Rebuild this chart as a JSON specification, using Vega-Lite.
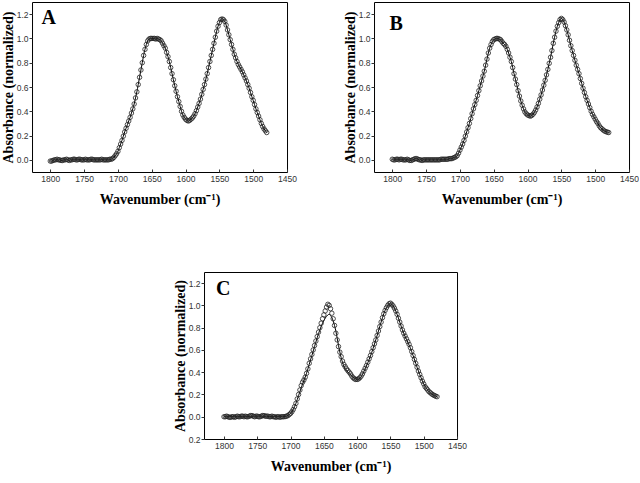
{
"$schema": "https://vega.github.io/schema/vega-lite/v6.json",
"padding": {"left": 0, "top": 1, "right": 0, "bottom": 0},
"background": "white",
"config": {
  "view": {"stroke": "black", "strokeWidth": 1},
  "axis": {"domain": false, "grid": false, "labelFont": "Liberation Sans", "labelFontSize": 8.5, "labelColor": "#333", "tickColor": "#333", "labelFlush": false, "labelOverlap": false, "titleFont": "Liberation Serif", "titleFontWeight": "bold", "titleColor": "black"},
  "axisX": {"tickSize": -3, "labelPadding": 5, "titleFontSize": 14, "titlePadding": 10},
  "axisY": {"tickSize": 3, "labelPadding": 1, "titleFontSize": 14, "titlePadding": 1}
},
"datasets": {
"A": [
{"x":1800,"y":-0.01},{"x":1798,"y":-0.01},{"x":1796,"y":-0.005},{"x":1794,"y":0},{"x":1792,"y":0},{"x":1790,"y":0.005},{"x":1788,"y":0},{"x":1786,"y":0},{"x":1784,"y":-0.005},{"x":1782,"y":-0.005},{"x":1780,"y":0},{"x":1778,"y":0},{"x":1776,"y":0.005},{"x":1774,"y":0},{"x":1772,"y":-0.005},{"x":1770,"y":0},{"x":1768,"y":0},{"x":1766,"y":0.005},{"x":1764,"y":0.005},{"x":1762,"y":0},{"x":1760,"y":0},{"x":1758,"y":0.005},{"x":1756,"y":0.005},{"x":1754,"y":0},{"x":1752,"y":0},{"x":1750,"y":0},{"x":1748,"y":0.005},{"x":1746,"y":0},{"x":1744,"y":0},{"x":1742,"y":0},{"x":1740,"y":0.005},{"x":1738,"y":0.005},{"x":1736,"y":0},{"x":1734,"y":0},{"x":1732,"y":0},{"x":1730,"y":0},{"x":1728,"y":0},{"x":1726,"y":0},{"x":1724,"y":0.005},{"x":1722,"y":0},{"x":1720,"y":0},{"x":1718,"y":0},{"x":1716,"y":0},{"x":1714,"y":0},{"x":1712,"y":0.005},{"x":1710,"y":0.005},
{"x":1708,"y":0.01},{"x":1706,"y":0.02},{"x":1704,"y":0.035},{"x":1702,"y":0.05},{"x":1700,"y":0.07},{"x":1698,"y":0.10},{"x":1696,"y":0.13},{"x":1694,"y":0.16},{"x":1692,"y":0.195},{"x":1690,"y":0.23},{"x":1688,"y":0.26},{"x":1686,"y":0.29},{"x":1684,"y":0.32},{"x":1682,"y":0.35},{"x":1680,"y":0.385},{"x":1678,"y":0.42},{"x":1676,"y":0.46},{"x":1674,"y":0.51},{"x":1672,"y":0.56},{"x":1670,"y":0.62},{"x":1668,"y":0.68},{"x":1666,"y":0.74},{"x":1664,"y":0.80},{"x":1662,"y":0.86},{"x":1660,"y":0.91},{"x":1658,"y":0.95},{"x":1656,"y":0.98},{"x":1654,"y":0.995},{"x":1652,"y":1.0},{"x":1650,"y":1.0},{"x":1648,"y":1.0},{"x":1646,"y":1.0},{"x":1644,"y":0.995},{"x":1642,"y":1.0},{"x":1640,"y":0.995},{"x":1638,"y":0.99},{"x":1636,"y":0.98},{"x":1634,"y":0.96},{"x":1632,"y":0.94},{"x":1630,"y":0.92},{"x":1628,"y":0.885},{"x":1626,"y":0.85},{"x":1624,"y":0.81},{"x":1622,"y":0.76},{"x":1620,"y":0.71},{"x":1618,"y":0.66},{"x":1616,"y":0.61},{"x":1614,"y":0.565},{"x":1612,"y":0.52},{"x":1610,"y":0.48},{"x":1608,"y":0.44},{"x":1606,"y":0.40},{"x":1604,"y":0.37},{"x":1602,"y":0.35},{"x":1600,"y":0.335},{"x":1598,"y":0.325},{"x":1596,"y":0.32},{"x":1594,"y":0.325},{"x":1592,"y":0.335},{"x":1590,"y":0.345},{"x":1588,"y":0.36},{"x":1586,"y":0.38},{"x":1584,"y":0.405},{"x":1582,"y":0.435},{"x":1580,"y":0.465},{"x":1578,"y":0.50},{"x":1576,"y":0.54},{"x":1574,"y":0.58},{"x":1572,"y":0.62},{"x":1570,"y":0.665},{"x":1568,"y":0.71},{"x":1566,"y":0.76},{"x":1564,"y":0.81},{"x":1562,"y":0.86},{"x":1560,"y":0.91},{"x":1558,"y":0.96},{"x":1556,"y":1.01},{"x":1554,"y":1.06},{"x":1552,"y":1.10},{"x":1550,"y":1.13},{"x":1548,"y":1.155},{"x":1546,"y":1.16},{"x":1544,"y":1.155},{"x":1542,"y":1.14},{"x":1540,"y":1.11},{"x":1538,"y":1.07},{"x":1536,"y":1.03},{"x":1534,"y":0.99},{"x":1532,"y":0.95},{"x":1530,"y":0.91},{"x":1528,"y":0.87},{"x":1526,"y":0.84},{"x":1524,"y":0.81},{"x":1522,"y":0.785},{"x":1520,"y":0.765},{"x":1518,"y":0.745},{"x":1516,"y":0.725},{"x":1514,"y":0.70},{"x":1512,"y":0.675},{"x":1510,"y":0.65},{"x":1508,"y":0.62},{"x":1506,"y":0.59},{"x":1504,"y":0.555},{"x":1502,"y":0.52},{"x":1500,"y":0.49},{"x":1498,"y":0.455},{"x":1496,"y":0.42},{"x":1494,"y":0.39},{"x":1492,"y":0.36},{"x":1490,"y":0.33},{"x":1488,"y":0.30},{"x":1486,"y":0.275},{"x":1484,"y":0.255},{"x":1482,"y":0.24},{"x":1480,"y":0.225}
],
"B": [
{"x":1800,"y":0.005},{"x":1798,"y":0},{"x":1796,"y":0},{"x":1794,"y":0.005},{"x":1792,"y":0.005},{"x":1790,"y":0},{"x":1788,"y":0.005},{"x":1786,"y":0.005},{"x":1784,"y":0},{"x":1782,"y":0},{"x":1780,"y":0},{"x":1778,"y":0.005},{"x":1776,"y":0},{"x":1774,"y":-0.005},{"x":1772,"y":-0.005},{"x":1770,"y":0},{"x":1768,"y":0.005},{"x":1766,"y":0.01},{"x":1764,"y":0.01},{"x":1762,"y":0.005},{"x":1760,"y":0},{"x":1758,"y":0},{"x":1756,"y":-0.005},{"x":1754,"y":0},{"x":1752,"y":0},{"x":1750,"y":0},{"x":1748,"y":0},{"x":1746,"y":0},{"x":1744,"y":0},{"x":1742,"y":0},{"x":1740,"y":0},{"x":1738,"y":0},{"x":1736,"y":0},{"x":1734,"y":0},{"x":1732,"y":0},{"x":1730,"y":0},{"x":1728,"y":0.005},{"x":1726,"y":0.005},{"x":1724,"y":0.005},{"x":1722,"y":0.005},{"x":1720,"y":0.005},{"x":1718,"y":0.005},{"x":1716,"y":0.01},{"x":1714,"y":0.01},{"x":1712,"y":0.01},{"x":1710,"y":0.015},
{"x":1708,"y":0.02},{"x":1706,"y":0.025},{"x":1704,"y":0.035},{"x":1702,"y":0.055},{"x":1700,"y":0.08},{"x":1698,"y":0.105},{"x":1696,"y":0.13},{"x":1694,"y":0.16},{"x":1692,"y":0.195},{"x":1690,"y":0.23},{"x":1688,"y":0.265},{"x":1686,"y":0.30},{"x":1684,"y":0.34},{"x":1682,"y":0.38},{"x":1680,"y":0.42},{"x":1678,"y":0.455},{"x":1676,"y":0.49},{"x":1674,"y":0.53},{"x":1672,"y":0.57},{"x":1670,"y":0.61},{"x":1668,"y":0.65},{"x":1666,"y":0.69},{"x":1664,"y":0.73},{"x":1662,"y":0.78},{"x":1660,"y":0.83},{"x":1658,"y":0.88},{"x":1656,"y":0.92},{"x":1654,"y":0.95},{"x":1652,"y":0.975},{"x":1650,"y":0.99},{"x":1648,"y":0.995},{"x":1646,"y":1.0},{"x":1644,"y":1.0},{"x":1642,"y":0.995},{"x":1640,"y":0.99},{"x":1638,"y":0.975},{"x":1636,"y":0.96},{"x":1634,"y":0.95},{"x":1632,"y":0.935},{"x":1630,"y":0.91},{"x":1628,"y":0.88},{"x":1626,"y":0.845},{"x":1624,"y":0.81},{"x":1622,"y":0.76},{"x":1620,"y":0.71},{"x":1618,"y":0.665},{"x":1616,"y":0.62},{"x":1614,"y":0.57},{"x":1612,"y":0.525},{"x":1610,"y":0.485},{"x":1608,"y":0.45},{"x":1606,"y":0.42},{"x":1604,"y":0.395},{"x":1602,"y":0.38},{"x":1600,"y":0.37},{"x":1598,"y":0.365},{"x":1596,"y":0.36},{"x":1594,"y":0.365},{"x":1592,"y":0.375},{"x":1590,"y":0.39},{"x":1588,"y":0.41},{"x":1586,"y":0.435},{"x":1584,"y":0.465},{"x":1582,"y":0.50},{"x":1580,"y":0.535},{"x":1578,"y":0.575},{"x":1576,"y":0.615},{"x":1574,"y":0.655},{"x":1572,"y":0.70},{"x":1570,"y":0.745},{"x":1568,"y":0.795},{"x":1566,"y":0.845},{"x":1564,"y":0.90},{"x":1562,"y":0.96},{"x":1560,"y":1.01},{"x":1558,"y":1.06},{"x":1556,"y":1.10},{"x":1554,"y":1.13},{"x":1552,"y":1.155},{"x":1550,"y":1.165},{"x":1548,"y":1.155},{"x":1546,"y":1.135},{"x":1544,"y":1.105},{"x":1542,"y":1.07},{"x":1540,"y":1.03},{"x":1538,"y":0.985},{"x":1536,"y":0.94},{"x":1534,"y":0.90},{"x":1532,"y":0.86},{"x":1530,"y":0.82},{"x":1528,"y":0.78},{"x":1526,"y":0.745},{"x":1524,"y":0.71},{"x":1522,"y":0.67},{"x":1520,"y":0.63},{"x":1518,"y":0.59},{"x":1516,"y":0.555},{"x":1514,"y":0.52},{"x":1512,"y":0.49},{"x":1510,"y":0.46},{"x":1508,"y":0.43},{"x":1506,"y":0.40},{"x":1504,"y":0.375},{"x":1502,"y":0.355},{"x":1500,"y":0.335},{"x":1498,"y":0.315},{"x":1496,"y":0.30},{"x":1494,"y":0.28},{"x":1492,"y":0.265},{"x":1490,"y":0.255},{"x":1488,"y":0.245},{"x":1486,"y":0.237},{"x":1484,"y":0.232},{"x":1482,"y":0.228},{"x":1480,"y":0.225}
],
"C": [
{"x":1800,"y":0},{"x":1798,"y":0},{"x":1796,"y":0.005},{"x":1794,"y":0},{"x":1792,"y":-0.005},{"x":1790,"y":-0.005},{"x":1788,"y":0},{"x":1786,"y":0},{"x":1784,"y":-0.005},{"x":1782,"y":0},{"x":1780,"y":0.005},{"x":1778,"y":0},{"x":1776,"y":0},{"x":1774,"y":0.005},{"x":1772,"y":0.005},{"x":1770,"y":0},{"x":1768,"y":0.005},{"x":1766,"y":0},{"x":1764,"y":0},{"x":1762,"y":0.005},{"x":1760,"y":0.01},{"x":1758,"y":0.01},{"x":1756,"y":0.005},{"x":1754,"y":0},{"x":1752,"y":0.005},{"x":1750,"y":0.005},{"x":1748,"y":0},{"x":1746,"y":0},{"x":1744,"y":0.005},{"x":1742,"y":0.01},{"x":1740,"y":0.01},{"x":1738,"y":0.005},{"x":1736,"y":0.005},{"x":1734,"y":0.005},{"x":1732,"y":0},{"x":1730,"y":0},{"x":1728,"y":0.005},{"x":1726,"y":0},{"x":1724,"y":0},{"x":1722,"y":-0.005},{"x":1720,"y":0},{"x":1718,"y":0},{"x":1716,"y":-0.005},{"x":1714,"y":0},{"x":1712,"y":0},{"x":1710,"y":0},
{"x":1708,"y":0.002},{"x":1706,"y":0.005},{"x":1704,"y":0.01},{"x":1702,"y":0.02},{"x":1700,"y":0.03},{"x":1698,"y":0.045},{"x":1696,"y":0.065},{"x":1694,"y":0.09},{"x":1692,"y":0.12},{"x":1690,"y":0.16},{"x":1688,"y":0.20},{"x":1686,"y":0.24},{"x":1684,"y":0.28},{"x":1682,"y":0.31},{"x":1680,"y":0.33},{"x":1678,"y":0.355},{"x":1676,"y":0.39},{"x":1674,"y":0.43},{"x":1672,"y":0.48},{"x":1670,"y":0.52},{"x":1668,"y":0.56},{"x":1666,"y":0.60},{"x":1664,"y":0.64},{"x":1662,"y":0.68},{"x":1660,"y":0.72},{"x":1658,"y":0.76},{"x":1656,"y":0.80},{"x":1654,"y":0.84},{"x":1652,"y":0.88},{"x":1650,"y":0.915},{"x":1648,"y":0.95},{"x":1646,"y":0.985},{"x":1644,"y":1.01},{"x":1642,"y":1.0},{"x":1640,"y":0.97},{"x":1638,"y":0.93},{"x":1636,"y":0.88},{"x":1634,"y":0.82},{"x":1632,"y":0.75},{"x":1630,"y":0.69},{"x":1628,"y":0.63},{"x":1626,"y":0.58},{"x":1624,"y":0.54},{"x":1622,"y":0.50},{"x":1620,"y":0.47},{"x":1618,"y":0.45},{"x":1616,"y":0.43},{"x":1614,"y":0.415},{"x":1612,"y":0.40},{"x":1610,"y":0.385},{"x":1608,"y":0.365},{"x":1606,"y":0.35},{"x":1604,"y":0.34},{"x":1602,"y":0.335},{"x":1600,"y":0.335},{"x":1598,"y":0.34},{"x":1596,"y":0.35},{"x":1594,"y":0.365},{"x":1592,"y":0.385},{"x":1590,"y":0.41},{"x":1588,"y":0.435},{"x":1586,"y":0.46},{"x":1584,"y":0.49},{"x":1582,"y":0.52},{"x":1580,"y":0.55},{"x":1578,"y":0.585},{"x":1576,"y":0.62},{"x":1574,"y":0.655},{"x":1572,"y":0.69},{"x":1570,"y":0.73},{"x":1568,"y":0.77},{"x":1566,"y":0.81},{"x":1564,"y":0.85},{"x":1562,"y":0.89},{"x":1560,"y":0.925},{"x":1558,"y":0.955},{"x":1556,"y":0.98},{"x":1554,"y":1.0},{"x":1552,"y":1.015},{"x":1550,"y":1.02},{"x":1548,"y":1.01},{"x":1546,"y":0.995},{"x":1544,"y":0.975},{"x":1542,"y":0.95},{"x":1540,"y":0.92},{"x":1538,"y":0.885},{"x":1536,"y":0.85},{"x":1534,"y":0.815},{"x":1532,"y":0.78},{"x":1530,"y":0.75},{"x":1528,"y":0.725},{"x":1526,"y":0.70},{"x":1524,"y":0.675},{"x":1522,"y":0.65},{"x":1520,"y":0.62},{"x":1518,"y":0.585},{"x":1516,"y":0.55},{"x":1514,"y":0.515},{"x":1512,"y":0.48},{"x":1510,"y":0.445},{"x":1508,"y":0.41},{"x":1506,"y":0.38},{"x":1504,"y":0.35},{"x":1502,"y":0.32},{"x":1500,"y":0.295},{"x":1498,"y":0.27},{"x":1496,"y":0.255},{"x":1494,"y":0.24},{"x":1492,"y":0.225},{"x":1490,"y":0.215},{"x":1488,"y":0.205},{"x":1486,"y":0.197},{"x":1484,"y":0.19},{"x":1482,"y":0.185},{"x":1480,"y":0.18}
],
"Cfit": [
{"x":1800,"y":0},{"x":1796,"y":0},{"x":1792,"y":0},{"x":1788,"y":0},{"x":1784,"y":0},{"x":1780,"y":0},{"x":1776,"y":0},{"x":1772,"y":0},{"x":1768,"y":0},{"x":1764,"y":0},{"x":1760,"y":0.005},{"x":1756,"y":0.005},{"x":1752,"y":0.005},{"x":1748,"y":0.005},{"x":1744,"y":0.005},{"x":1740,"y":0.005},{"x":1736,"y":0.005},{"x":1732,"y":0},{"x":1728,"y":0},{"x":1724,"y":0},{"x":1720,"y":0},{"x":1716,"y":0},{"x":1712,"y":0},{"x":1708,"y":0.002},{"x":1704,"y":0.012},{"x":1700,"y":0.03},{"x":1696,"y":0.065},{"x":1692,"y":0.12},{"x":1688,"y":0.19},{"x":1684,"y":0.26},{"x":1680,"y":0.325},{"x":1676,"y":0.39},{"x":1672,"y":0.47},{"x":1668,"y":0.55},{"x":1664,"y":0.63},{"x":1660,"y":0.71},{"x":1656,"y":0.78},{"x":1652,"y":0.84},{"x":1648,"y":0.885},{"x":1644,"y":0.915},{"x":1642,"y":0.92},{"x":1640,"y":0.91},{"x":1636,"y":0.86},{"x":1632,"y":0.77},{"x":1628,"y":0.64},{"x":1624,"y":0.53},{"x":1620,"y":0.455},{"x":1616,"y":0.415},{"x":1612,"y":0.39},{"x":1608,"y":0.365},{"x":1604,"y":0.345},{"x":1600,"y":0.335},{"x":1596,"y":0.345},{"x":1592,"y":0.38},{"x":1588,"y":0.43},{"x":1584,"y":0.485},{"x":1580,"y":0.545},{"x":1576,"y":0.615},{"x":1572,"y":0.69},{"x":1568,"y":0.77},{"x":1564,"y":0.85},{"x":1560,"y":0.925},{"x":1556,"y":0.98},{"x":1552,"y":1.01},{"x":1550,"y":1.015},{"x":1548,"y":1.01},{"x":1544,"y":0.975},{"x":1540,"y":0.92},{"x":1536,"y":0.85},{"x":1532,"y":0.78},{"x":1528,"y":0.72},{"x":1524,"y":0.67},{"x":1520,"y":0.615},{"x":1516,"y":0.55},{"x":1512,"y":0.48},{"x":1508,"y":0.41},{"x":1504,"y":0.35},{"x":1500,"y":0.295},{"x":1496,"y":0.255},{"x":1492,"y":0.225},{"x":1488,"y":0.205},{"x":1484,"y":0.19},{"x":1480,"y":0.18}
]
},
"center": true,
"spacing": 64,
"vconcat": [
{
"spacing": 45,
"hconcat": [
{
"width": 255, "height": 170,
"layer": [
  {"data": {"name": "A"}, "mark": {"type": "line", "color": "black", "strokeWidth": 1, "interpolate": "monotone"},
   "encoding": {
    "x": {"field": "x", "type": "quantitative", "scale": {"domain": [1450, 1827], "reverse": true, "nice": false, "zero": false}, "axis": {"values": [1450,1500,1550,1600,1650,1700,1750,1800], "format": "d", "labelOverlap": false, "labelFlush": false, "title": "Wavenumber (cm⁻¹)"}},
    "y": {"field": "y", "type": "quantitative", "scale": {"domain": [-0.1, 1.3], "nice": false, "zero": false}, "axis": {"values": [0,0.2,0.4,0.6,0.8,1.0,1.2], "format": ".1f", "labelOverlap": false, "labelFlush": false, "title": "Absorbance (normalized)"}}}},
  {"data": {"name": "A"}, "mark": {"type": "point", "shape": "circle", "filled": false, "size": 20, "color": "#222", "strokeWidth": 0.8, "opacity": 1},
   "encoding": {
    "x": {"field": "x", "type": "quantitative", "axis": {"values": [1450,1500,1550,1600,1650,1700,1750,1800], "format": "d", "labelOverlap": false, "labelFlush": false, "title": "Wavenumber (cm⁻¹)"}},
    "y": {"field": "y", "type": "quantitative", "axis": {"values": [0,0.2,0.4,0.6,0.8,1.0,1.2], "format": ".1f", "labelOverlap": false, "labelFlush": false, "title": "Absorbance (normalized)"}}}},
  {"data": {"values": [{"label": "A"}]}, "mark": {"type": "text", "align": "left", "baseline": "alphabetic", "font": "Liberation Serif", "fontWeight": "bold", "fontSize": 20, "color": "black"},
   "encoding": {
    "x": {"datum": 1813, "type": "quantitative", "axis": {"values": [1450,1500,1550,1600,1650,1700,1750,1800], "format": "d", "labelOverlap": false, "labelFlush": false, "title": "Wavenumber (cm⁻¹)"}},
    "y": {"datum": 1.12, "type": "quantitative", "axis": {"values": [0,0.2,0.4,0.6,0.8,1.0,1.2], "format": ".1f", "labelOverlap": false, "labelFlush": false, "title": "Absorbance (normalized)"}},
    "text": {"field": "label"}}}
]
},
{
"width": 255, "height": 170,
"layer": [
  {"data": {"name": "B"}, "mark": {"type": "line", "color": "black", "strokeWidth": 1, "interpolate": "monotone"},
   "encoding": {
    "x": {"field": "x", "type": "quantitative", "scale": {"domain": [1450, 1827], "reverse": true, "nice": false, "zero": false}, "axis": {"values": [1450,1500,1550,1600,1650,1700,1750,1800], "format": "d", "labelOverlap": false, "labelFlush": false, "title": "Wavenumber (cm⁻¹)"}},
    "y": {"field": "y", "type": "quantitative", "scale": {"domain": [-0.1, 1.3], "nice": false, "zero": false}, "axis": {"values": [0,0.2,0.4,0.6,0.8,1.0,1.2], "format": ".1f", "labelOverlap": false, "labelFlush": false, "title": "Absorbance (normalized)"}}}},
  {"data": {"name": "B"}, "mark": {"type": "point", "shape": "circle", "filled": false, "size": 20, "color": "#222", "strokeWidth": 0.8, "opacity": 1},
   "encoding": {
    "x": {"field": "x", "type": "quantitative", "axis": {"values": [1450,1500,1550,1600,1650,1700,1750,1800], "format": "d", "labelOverlap": false, "labelFlush": false, "title": "Wavenumber (cm⁻¹)"}},
    "y": {"field": "y", "type": "quantitative", "axis": {"values": [0,0.2,0.4,0.6,0.8,1.0,1.2], "format": ".1f", "labelOverlap": false, "labelFlush": false, "title": "Absorbance (normalized)"}}}},
  {"data": {"values": [{"label": "B"}]}, "mark": {"type": "text", "align": "left", "baseline": "alphabetic", "font": "Liberation Serif", "fontWeight": "bold", "fontSize": 20, "color": "black"},
   "encoding": {
    "x": {"datum": 1804, "type": "quantitative", "axis": {"values": [1450,1500,1550,1600,1650,1700,1750,1800], "format": "d", "labelOverlap": false, "labelFlush": false, "title": "Wavenumber (cm⁻¹)"}},
    "y": {"datum": 1.07, "type": "quantitative", "axis": {"values": [0,0.2,0.4,0.6,0.8,1.0,1.2], "format": ".1f", "labelOverlap": false, "labelFlush": false, "title": "Absorbance (normalized)"}},
    "text": {"field": "label"}}}
]
}
]
},
{
"width": 253, "height": 167,
"layer": [
  {"data": {"name": "Cfit"}, "mark": {"type": "line", "color": "black", "strokeWidth": 1, "interpolate": "monotone"},
   "encoding": {
    "x": {"field": "x", "type": "quantitative", "scale": {"domain": [1450, 1830], "reverse": true, "nice": false, "zero": false}, "axis": {"values": [1450,1500,1550,1600,1650,1700,1750,1800], "format": "d", "labelOverlap": false, "labelFlush": false, "title": "Wavenumber (cm⁻¹)"}},
    "y": {"field": "y", "type": "quantitative", "scale": {"domain": [-0.2, 1.3], "nice": false, "zero": false}, "axis": {"values": [-0.2,0,0.2,0.4,0.6,0.8,1.0,1.2], "labelExpr": "format(abs(datum.value), '.1f')", "labelOverlap": false, "labelFlush": false, "title": "Absorbance (normalized)"}}}},
  {"data": {"name": "C"}, "mark": {"type": "point", "shape": "circle", "filled": false, "size": 20, "color": "#222", "strokeWidth": 0.8, "opacity": 1},
   "encoding": {
    "x": {"field": "x", "type": "quantitative", "axis": {"values": [1450,1500,1550,1600,1650,1700,1750,1800], "format": "d", "labelOverlap": false, "labelFlush": false, "title": "Wavenumber (cm⁻¹)"}},
    "y": {"field": "y", "type": "quantitative", "axis": {"values": [-0.2,0,0.2,0.4,0.6,0.8,1.0,1.2], "labelExpr": "format(abs(datum.value), '.1f')", "labelOverlap": false, "labelFlush": false, "title": "Absorbance (normalized)"}}}},
  {"data": {"values": [{"label": "C"}]}, "mark": {"type": "text", "align": "left", "baseline": "alphabetic", "font": "Liberation Serif", "fontWeight": "bold", "fontSize": 20, "color": "black"},
   "encoding": {
    "x": {"datum": 1812, "type": "quantitative", "axis": {"values": [1450,1500,1550,1600,1650,1700,1750,1800], "format": "d", "labelOverlap": false, "labelFlush": false, "title": "Wavenumber (cm⁻¹)"}},
    "y": {"datum": 1.09, "type": "quantitative", "axis": {"values": [-0.2,0,0.2,0.4,0.6,0.8,1.0,1.2], "labelExpr": "format(abs(datum.value), '.1f')", "labelOverlap": false, "labelFlush": false, "title": "Absorbance (normalized)"}},
    "text": {"field": "label"}}}
]
}
]
}
